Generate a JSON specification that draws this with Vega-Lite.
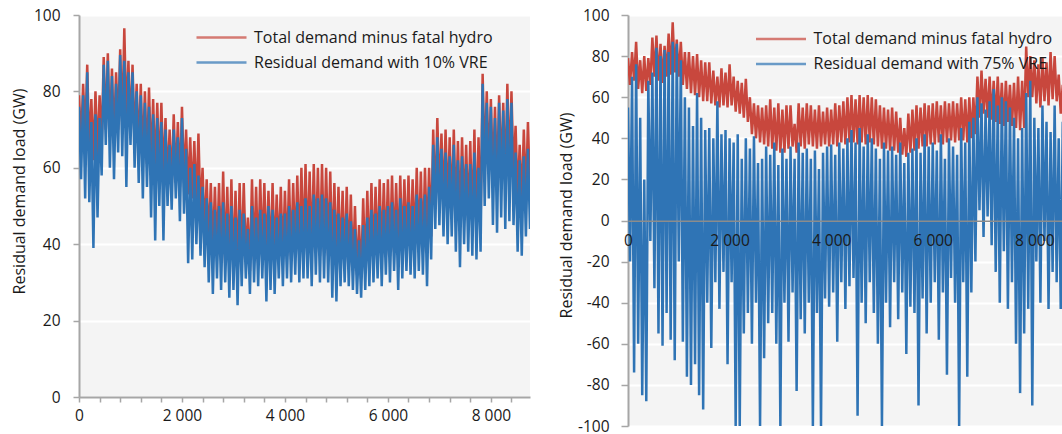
{
  "$schema": "https://vega.github.io/schema/vega-lite/v6.json",
  "padding": {"left": 11, "top": 8, "right": 0, "bottom": 0},
  "config": {
    "font": "Open Sans",
    "view": {"fill": "#f4f4f4", "stroke": null},
    "axis": {
      "labelFont": "Open Sans", "labelFontSize": 15.5, "labelColor": "#1a1a1a",
      "titleFont": "Open Sans", "titleFontSize": 16, "titleFontWeight": "normal", "titleColor": "#1a1a1a",
      "domainColor": "#a6a6a6", "domainWidth": 2, "tickColor": "#a6a6a6", "tickWidth": 1.5,
      "gridColor": "#ffffff", "gridWidth": 2, "gridOpacity": 1, "labelOverlap": false, "labelFlush": false
    },
    "legend": {
      "orient": "none", "direction": "vertical", "title": null,
      "symbolType": "M-5,0H5", "symbolSize": 100, "symbolStrokeWidth": 2.5, "symbolOpacity": 0.7,
      "labelFont": "Open Sans", "labelFontSize": 16, "labelColor": "#1a1a1a", "labelLimit": 0,
      "labelOffset": 24.5, "rowPadding": 9, "padding": 0
    }
  },
  "datasets": {
    "load": [
      {"hour":0,"dem":79,"r10":76,"r75":55},
      {"hour":40,"dem":66,"r10":57,"r75":-20},
      {"hour":80,"dem":82,"r10":79,"r75":70},
      {"hour":120,"dem":68,"r10":52,"r75":-74},
      {"hour":160,"dem":87,"r10":85,"r75":76},
      {"hour":200,"dem":64,"r10":51,"r75":-60},
      {"hour":240,"dem":78,"r10":72,"r75":50},
      {"hour":280,"dem":62,"r10":39,"r75":-85},
      {"hour":320,"dem":80,"r10":74,"r75":20},
      {"hour":360,"dem":63,"r10":47,"r75":-88},
      {"hour":400,"dem":79,"r10":73,"r75":68},
      {"hour":440,"dem":66,"r10":58,"r75":-10},
      {"hour":480,"dem":89,"r10":87,"r75":72},
      {"hour":520,"dem":70,"r10":66,"r75":-33},
      {"hour":560,"dem":90,"r10":88,"r75":84},
      {"hour":600,"dem":68,"r10":60,"r75":-55},
      {"hour":640,"dem":86,"r10":84,"r75":80},
      {"hour":680,"dem":67,"r10":57,"r75":-61},
      {"hour":720,"dem":85,"r10":82,"r75":83},
      {"hour":760,"dem":70,"r10":64,"r75":-45},
      {"hour":800,"dem":91,"r10":89.5,"r75":82},
      {"hour":840,"dem":71,"r10":63,"r75":-58},
      {"hour":880,"dem":96.5,"r10":88,"r75":87},
      {"hour":920,"dem":72,"r10":55,"r75":-68},
      {"hour":960,"dem":88,"r10":85,"r75":86},
      {"hour":1000,"dem":70,"r10":66,"r75":-20},
      {"hour":1040,"dem":87,"r10":85,"r75":78},
      {"hour":1080,"dem":66,"r10":60,"r75":-59},
      {"hour":1120,"dem":82,"r10":80,"r75":60},
      {"hour":1160,"dem":64,"r10":56,"r75":-76},
      {"hour":1200,"dem":82,"r10":79,"r75":55},
      {"hour":1240,"dem":62,"r10":52,"r75":-80},
      {"hour":1280,"dem":80,"r10":77,"r75":46},
      {"hour":1320,"dem":61,"r10":55,"r75":-70},
      {"hour":1360,"dem":81,"r10":76,"r75":62},
      {"hour":1400,"dem":60,"r10":47,"r75":-85},
      {"hour":1440,"dem":78,"r10":74,"r75":50},
      {"hour":1480,"dem":58,"r10":41,"r75":-92},
      {"hour":1520,"dem":77,"r10":73,"r75":44},
      {"hour":1560,"dem":58,"r10":50,"r75":-40},
      {"hour":1600,"dem":77,"r10":72,"r75":45},
      {"hour":1640,"dem":57,"r10":41,"r75":-62},
      {"hour":1680,"dem":73,"r10":70,"r75":40},
      {"hour":1720,"dem":56,"r10":50,"r75":-30},
      {"hour":1760,"dem":70,"r10":66,"r75":58},
      {"hour":1800,"dem":55,"r10":49,"r75":-43},
      {"hour":1840,"dem":74,"r10":70,"r75":42},
      {"hour":1880,"dem":56,"r10":52,"r75":-25},
      {"hour":1920,"dem":72,"r10":68,"r75":44},
      {"hour":1960,"dem":55,"r10":46,"r75":-70},
      {"hour":2000,"dem":76,"r10":73,"r75":40},
      {"hour":2040,"dem":56,"r10":48,"r75":-30},
      {"hour":2080,"dem":70,"r10":65,"r75":38},
      {"hour":2120,"dem":53,"r10":35,"r75":-100},
      {"hour":2160,"dem":68,"r10":60,"r75":42},
      {"hour":2200,"dem":52,"r10":36,"r75":-100},
      {"hour":2240,"dem":67,"r10":61,"r75":30},
      {"hour":2280,"dem":50,"r10":40,"r75":-55},
      {"hour":2320,"dem":69,"r10":58,"r75":40},
      {"hour":2360,"dem":48,"r10":37,"r75":-45},
      {"hour":2400,"dem":60,"r10":55,"r75":35},
      {"hour":2440,"dem":42,"r10":34,"r75":-60},
      {"hour":2480,"dem":57,"r10":52,"r75":41},
      {"hour":2520,"dem":40,"r10":30,"r75":-40},
      {"hour":2560,"dem":56,"r10":51,"r75":28},
      {"hour":2600,"dem":38,"r10":27,"r75":-100},
      {"hour":2640,"dem":55,"r10":49,"r75":30},
      {"hour":2680,"dem":37,"r10":31,"r75":-67},
      {"hour":2720,"dem":56,"r10":50,"r75":36},
      {"hour":2760,"dem":36,"r10":28,"r75":-50},
      {"hour":2800,"dem":59,"r10":51,"r75":32},
      {"hour":2840,"dem":35,"r10":30,"r75":-45},
      {"hour":2880,"dem":55,"r10":48,"r75":38},
      {"hour":2920,"dem":34,"r10":26,"r75":-60},
      {"hour":2960,"dem":57,"r10":50,"r75":27},
      {"hour":3000,"dem":33,"r10":28,"r75":-100},
      {"hour":3040,"dem":54,"r10":47,"r75":35},
      {"hour":3080,"dem":33,"r10":24,"r75":-40},
      {"hour":3120,"dem":56,"r10":49,"r75":30},
      {"hour":3160,"dem":35,"r10":29,"r75":-59},
      {"hour":3200,"dem":56,"r10":48,"r75":36},
      {"hour":3240,"dem":36,"r10":31,"r75":-35},
      {"hour":3280,"dem":47,"r10":44,"r75":30},
      {"hour":3320,"dem":33,"r10":27,"r75":-83},
      {"hour":3360,"dem":57,"r10":50,"r75":38},
      {"hour":3400,"dem":36,"r10":30,"r75":-48},
      {"hour":3440,"dem":55,"r10":47,"r75":33},
      {"hour":3480,"dem":35,"r10":29,"r75":-55},
      {"hour":3520,"dem":57,"r10":49,"r75":35},
      {"hour":3560,"dem":37,"r10":31,"r75":-40},
      {"hour":3600,"dem":56,"r10":48,"r75":30},
      {"hour":3640,"dem":36,"r10":25,"r75":-100},
      {"hour":3680,"dem":54,"r10":50,"r75":34},
      {"hour":3720,"dem":35,"r10":28,"r75":-45},
      {"hour":3760,"dem":56,"r10":49,"r75":25},
      {"hour":3800,"dem":36,"r10":27,"r75":-100},
      {"hour":3840,"dem":53,"r10":47,"r75":33},
      {"hour":3880,"dem":37,"r10":31,"r75":-38},
      {"hour":3920,"dem":55,"r10":48,"r75":36},
      {"hour":3960,"dem":36,"r10":29,"r75":-42},
      {"hour":4000,"dem":54,"r10":48,"r75":37},
      {"hour":4040,"dem":37,"r10":31,"r75":-35},
      {"hour":4080,"dem":57,"r10":50,"r75":32},
      {"hour":4120,"dem":36,"r10":30,"r75":-59},
      {"hour":4160,"dem":56,"r10":49,"r75":38},
      {"hour":4200,"dem":38,"r10":32,"r75":-30},
      {"hour":4240,"dem":58,"r10":51,"r75":35},
      {"hour":4280,"dem":37,"r10":30,"r75":-43},
      {"hour":4320,"dem":60,"r10":50,"r75":40},
      {"hour":4360,"dem":38,"r10":31,"r75":-32},
      {"hour":4400,"dem":61,"r10":52,"r75":44},
      {"hour":4440,"dem":38,"r10":31,"r75":-28},
      {"hour":4480,"dem":59,"r10":50,"r75":38},
      {"hour":4520,"dem":37,"r10":29,"r75":-95},
      {"hour":4560,"dem":61,"r10":53,"r75":45},
      {"hour":4600,"dem":38,"r10":32,"r75":-40},
      {"hour":4640,"dem":60,"r10":52,"r75":36},
      {"hour":4680,"dem":37,"r10":30,"r75":-50},
      {"hour":4720,"dem":61,"r10":53,"r75":42},
      {"hour":4760,"dem":38,"r10":31,"r75":-30},
      {"hour":4800,"dem":60,"r10":52,"r75":40},
      {"hour":4840,"dem":37,"r10":30,"r75":-45},
      {"hour":4880,"dem":59,"r10":51,"r75":35},
      {"hour":4920,"dem":36,"r10":26,"r75":-60},
      {"hour":4960,"dem":56,"r10":49,"r75":30},
      {"hour":5000,"dem":35,"r10":25,"r75":-100},
      {"hour":5040,"dem":55,"r10":48,"r75":38},
      {"hour":5080,"dem":35,"r10":29,"r75":-40},
      {"hour":5120,"dem":54,"r10":47,"r75":34},
      {"hour":5160,"dem":34,"r10":30,"r75":-52},
      {"hour":5200,"dem":55,"r10":48,"r75":36},
      {"hour":5240,"dem":34,"r10":29,"r75":-30},
      {"hour":5280,"dem":53,"r10":46,"r75":32},
      {"hour":5320,"dem":33,"r10":28,"r75":-48},
      {"hour":5360,"dem":50,"r10":44,"r75":38},
      {"hour":5400,"dem":32,"r10":27,"r75":-35},
      {"hour":5440,"dem":45,"r10":41,"r75":28},
      {"hour":5480,"dem":31,"r10":26,"r75":-65},
      {"hour":5520,"dem":52,"r10":45,"r75":33},
      {"hour":5560,"dem":33,"r10":28,"r75":-42},
      {"hour":5600,"dem":54,"r10":47,"r75":35},
      {"hour":5640,"dem":34,"r10":29,"r75":-45},
      {"hour":5680,"dem":56,"r10":49,"r75":40},
      {"hour":5720,"dem":35,"r10":30,"r75":-90},
      {"hour":5760,"dem":55,"r10":48,"r75":33},
      {"hour":5800,"dem":36,"r10":31,"r75":-38},
      {"hour":5840,"dem":57,"r10":50,"r75":42},
      {"hour":5880,"dem":36,"r10":29,"r75":-55},
      {"hour":5920,"dem":56,"r10":49,"r75":36},
      {"hour":5960,"dem":37,"r10":32,"r75":-40},
      {"hour":6000,"dem":57,"r10":50,"r75":38},
      {"hour":6040,"dem":37,"r10":30,"r75":-30},
      {"hour":6080,"dem":58,"r10":51,"r75":34},
      {"hour":6120,"dem":38,"r10":33,"r75":-58},
      {"hour":6160,"dem":56,"r10":49,"r75":42},
      {"hour":6200,"dem":37,"r10":28,"r75":-35},
      {"hour":6240,"dem":58,"r10":52,"r75":30},
      {"hour":6280,"dem":38,"r10":31,"r75":-75},
      {"hour":6320,"dem":57,"r10":50,"r75":40},
      {"hour":6360,"dem":39,"r10":33,"r75":-28},
      {"hour":6400,"dem":58,"r10":51,"r75":36},
      {"hour":6440,"dem":38,"r10":32,"r75":-40},
      {"hour":6480,"dem":57,"r10":50,"r75":32},
      {"hour":6520,"dem":39,"r10":31,"r75":-100},
      {"hour":6560,"dem":60,"r10":53,"r75":45},
      {"hour":6600,"dem":39,"r10":33,"r75":-30},
      {"hour":6640,"dem":59,"r10":52,"r75":38},
      {"hour":6680,"dem":38,"r10":32,"r75":-76},
      {"hour":6720,"dem":60,"r10":53,"r75":48},
      {"hour":6760,"dem":40,"r10":29,"r75":-35},
      {"hour":6800,"dem":60,"r10":55,"r75":50},
      {"hour":6840,"dem":42,"r10":36,"r75":-20},
      {"hour":6880,"dem":70,"r10":66,"r75":60},
      {"hour":6920,"dem":50,"r10":44,"r75":5},
      {"hour":6960,"dem":73,"r10":68,"r75":57},
      {"hour":7000,"dem":52,"r10":45,"r75":-8},
      {"hour":7040,"dem":69,"r10":65,"r75":54},
      {"hour":7080,"dem":50,"r10":42,"r75":2},
      {"hour":7120,"dem":70,"r10":64,"r75":58},
      {"hour":7160,"dem":49,"r10":40,"r75":-12},
      {"hour":7200,"dem":68,"r10":63,"r75":64},
      {"hour":7240,"dem":48,"r10":42,"r75":-25},
      {"hour":7280,"dem":70,"r10":66,"r75":56},
      {"hour":7320,"dem":47,"r10":38,"r75":-40},
      {"hour":7360,"dem":67,"r10":62,"r75":60},
      {"hour":7400,"dem":46,"r10":34,"r75":-15},
      {"hour":7440,"dem":68,"r10":63,"r75":58},
      {"hour":7480,"dem":48,"r10":40,"r75":-43},
      {"hour":7520,"dem":66,"r10":61,"r75":55},
      {"hour":7560,"dem":46,"r10":38,"r75":-30},
      {"hour":7600,"dem":67,"r10":61,"r75":50},
      {"hour":7640,"dem":45,"r10":37,"r75":-60},
      {"hour":7680,"dem":70,"r10":64,"r75":40},
      {"hour":7720,"dem":44,"r10":36,"r75":-84},
      {"hour":7760,"dem":68,"r10":60,"r75":45},
      {"hour":7800,"dem":45,"r10":38,"r75":-55},
      {"hour":7840,"dem":84.6,"r10":82,"r75":62},
      {"hour":7880,"dem":60,"r10":50,"r75":-43},
      {"hour":7920,"dem":80,"r10":77,"r75":68},
      {"hour":7960,"dem":60,"r10":52,"r75":-90},
      {"hour":8000,"dem":78,"r10":76,"r75":50},
      {"hour":8040,"dem":57,"r10":45,"r75":-20},
      {"hour":8080,"dem":76,"r10":73,"r75":45},
      {"hour":8120,"dem":55,"r10":43,"r75":-40},
      {"hour":8160,"dem":79,"r10":77,"r75":56},
      {"hour":8200,"dem":58,"r10":47,"r75":-10},
      {"hour":8240,"dem":77,"r10":75,"r75":48},
      {"hour":8280,"dem":56,"r10":44,"r75":-43},
      {"hour":8320,"dem":82,"r10":78,"r75":43},
      {"hour":8360,"dem":59,"r10":46,"r75":-25},
      {"hour":8400,"dem":80,"r10":77,"r75":56},
      {"hour":8440,"dem":58,"r10":45,"r75":-30},
      {"hour":8480,"dem":71,"r10":64,"r75":40},
      {"hour":8520,"dem":52,"r10":38,"r75":-43},
      {"hour":8560,"dem":66,"r10":62,"r75":48},
      {"hour":8600,"dem":50,"r10":37,"r75":-20},
      {"hour":8640,"dem":70,"r10":63,"r75":45},
      {"hour":8680,"dem":52,"r10":42,"r75":-35},
      {"hour":8720,"dem":72,"r10":65,"r75":55},
      {"hour":8760,"dem":53,"r10":44,"r75":-40}
    ]
  },
  "resolve": {"scale": {"x": "independent", "y": "independent", "color": "independent"}},
  "spacing": 28,
  "hconcat": [
    {
      "width": 451,
      "height": 382,
      "data": {"name": "load"},
      "encoding": {
        "x": {
          "field": "hour", "type": "quantitative",
          "scale": {"domain": [0, 8760], "nice": false, "zero": false},
          "axis": {
            "title": null, "grid": false, "tickSize": 5, "labelPadding": 6,
            "values": [0,400,800,1200,1600,2000,2400,2800,3200,3600,4000,4400,4800,5200,5600,6000,6400,6800,7200,7600,8000,8400],
            "labelExpr": "datum.value % 2000 === 0 ? replace(format(datum.value, ','), ',', ' ') : ''"
          }
        }
      },
      "layer": [
        {
          "mark": {"type": "line", "strokeWidth": 2.5, "clip": true},
          "encoding": {
            "y": {
              "field": "dem", "type": "quantitative",
              "scale": {"domain": [0, 100], "nice": false},
              "axis": {
                "title": "Residual demand load (GW)", "values": [0,20,40,60,80,100],
                "tickSize": 6, "labelPadding": 13, "grid": true,
                "titleAngle": -90, "titleX": -60, "titleY": 176, "titleBaseline": "middle", "titleAlign": "center"
              }
            },
            "color": {
              "datum": "Total demand minus fatal hydro", "type": "nominal",
              "scale": {"domain": ["Total demand minus fatal hydro", "Residual demand with 10% VRE"], "range": ["#c8473d", "#2f74b5"]},
              "legend": {"legendX": 134.5, "legendY": 14.5}
            }
          }
        },
        {
          "mark": {"type": "line", "strokeWidth": 2.5, "clip": true},
          "encoding": {
            "y": {"field": "r10", "type": "quantitative"},
            "color": {"datum": "Residual demand with 10% VRE", "type": "nominal"}
          }
        }
      ]
    },
    {
      "width": 434,
      "height": 411,
      "data": {"name": "load"},
      "encoding": {
        "x": {
          "field": "hour", "type": "quantitative",
          "scale": {"domain": [0, 8545], "nice": false, "zero": false},
          "axis": {
            "title": null, "grid": false, "ticks": false, "labelPadding": 13,
            "offset": -205.3, "domainColor": "#8c8c8c", "domainWidth": 1.5, "zindex": 1,
            "values": [0,2000,4000,6000,8000],
            "labelExpr": "replace(format(datum.value, ','), ',', ' ')"
          }
        }
      },
      "layer": [
        {
          "mark": {"type": "line", "strokeWidth": 2.5, "clip": true},
          "encoding": {
            "y": {
              "field": "dem", "type": "quantitative",
              "scale": {"domain": [-100, 100], "nice": false},
              "axis": {
                "title": "Residual demand load (GW)",
                "values": [-100,-80,-60,-40,-20,0,20,40,60,80,100],
                "labelExpr": "datum.value + ''",
                "tickSize": 7, "labelPadding": 12, "grid": true,
                "titleAngle": -90, "titleX": -61.5, "titleY": 200, "titleBaseline": "middle", "titleAlign": "center"
              }
            },
            "color": {
              "datum": "Total demand minus fatal hydro", "type": "nominal",
              "scale": {"domain": ["Total demand minus fatal hydro", "Residual demand with 75% VRE"], "range": ["#c8473d", "#2f74b5"]},
              "legend": {"legendX": 145, "legendY": 16}
            }
          }
        },
        {
          "mark": {"type": "line", "strokeWidth": 2.5, "clip": true},
          "encoding": {
            "y": {"field": "r75", "type": "quantitative"},
            "color": {"datum": "Residual demand with 75% VRE", "type": "nominal"}
          }
        }
      ]
    }
  ]
}
